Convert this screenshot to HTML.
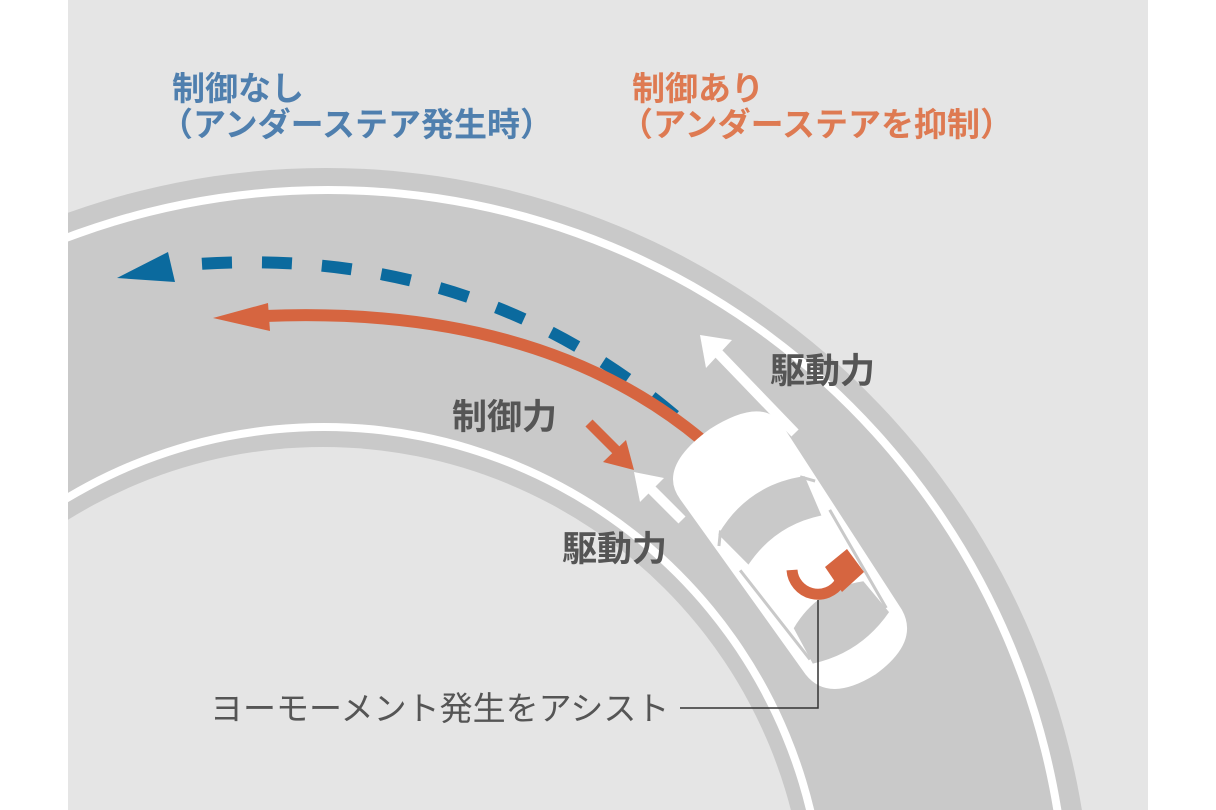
<!DOCTYPE html>
<html><head><meta charset="utf-8"><style>
html,body{margin:0;padding:0;background:#fff;overflow:hidden;}
svg{display:block}
</style></head><body>
<svg width="1216" height="810" viewBox="0 0 1216 810" xmlns="http://www.w3.org/2000/svg">
<defs><clipPath id="c"><rect x="68" y="0" width="1080" height="810"/></clipPath></defs>
<rect width="1216" height="810" fill="#fff"/>
<g clip-path="url(#c)">
<rect x="68" y="0" width="1080" height="810" fill="#e5e5e5"/>
<circle cx="326" cy="934" r="766" fill="#c9c9c9"/>
<circle cx="328" cy="929" r="743" fill="#fff"/>
<circle cx="328" cy="929" r="735" fill="#c9c9c9"/>
<circle cx="324" cy="927" r="504" fill="#fff"/>
<circle cx="324" cy="927" r="496" fill="#c9c9c9"/>
<circle cx="323" cy="930" r="483" fill="#e5e5e5"/>
</g>
<!-- blue dashed -->
<path d="M172,266 Q470,238 680,420" fill="none" stroke="#0b6a9e" stroke-width="12" stroke-dasharray="30,30" stroke-dashoffset="-30"/>
<polygon points="117,278 168,252 175,282" fill="#0b6a9e"/>
<!-- orange -->
<path d="M265,316 Q540,305 702,440" fill="none" stroke="#d66540" stroke-width="12"/>
<polygon points="213,318 268,303 270,331" fill="#d66540"/>
<!-- white arrows -->
<line x1="795" y1="433" x2="718" y2="353" stroke="#fff" stroke-width="10"/>
<polygon points="700,335 732,340 706,368" fill="#fff"/>
<line x1="682" y1="520" x2="648" y2="486" stroke="#fff" stroke-width="10"/>
<polygon points="634,472 664,478 640,502" fill="#fff"/>
<!-- orange small -->
<line x1="589" y1="423" x2="618" y2="452" stroke="#d66540" stroke-width="10"/>
<polygon points="634,470 603,462 626,440" fill="#d66540"/>
<!-- car -->
<g transform="translate(795,555) rotate(-34)">
<path d="M-64,-110 Q-66,-150 0,-152 Q66,-150 62,-110 L58,105 Q55,142 0,144 Q-55,142 -58,105 Z" fill="#fff"/>
<path d="M-52,-60 Q0,-85 52,-60 L44,-18 Q0,-36 -44,-18 Z" fill="#c9c9c9"/>
<path d="M-42,60 Q0,40 42,60 L46,100 Q0,118 -46,100 Z" fill="#c9c9c9"/>
<path d="M-58,-50 L-48,-62 M58,-50 L48,-62 M-54,-18 L-46,95 M54,-18 L46,95" stroke="#c9c9c9" stroke-width="3" fill="none"/>
</g>
<!-- yaw arrow -->
<path d="M792,570 A26,26 0 0 0 840,582" fill="none" stroke="#d66540" stroke-width="11"/>
<polygon points="825,567 847,549 864,572 842,592" fill="#d66540"/>
<!-- leader -->
<polyline points="818,600 818,708 680,708" fill="none" stroke="#333" stroke-width="1.5"/>
<g font-family="'Liberation Sans','Noto Sans CJK JP',sans-serif" font-weight="bold" font-size="33">
<text x="172" y="100" fill="#4f7fae">制御なし</text>
<text x="160" y="136" fill="#4f7fae">（アンダーステア発生時）</text>
<text x="632" y="100" fill="#de7a52">制御あり</text>
<text x="620" y="136" fill="#de7a52">（アンダーステアを抑制）</text>
<text x="770" y="383" fill="#555" font-size="35">駆動力</text>
<text x="452" y="429" fill="#555" font-size="35">制御力</text>
<text x="562" y="561" fill="#555" font-size="35">駆動力</text>
</g>
<text x="210" y="720" font-family="'Liberation Sans','Noto Sans CJK JP',sans-serif" font-size="33" fill="#555">ヨーモーメント発生をアシスト</text>
</svg>
</body></html>
